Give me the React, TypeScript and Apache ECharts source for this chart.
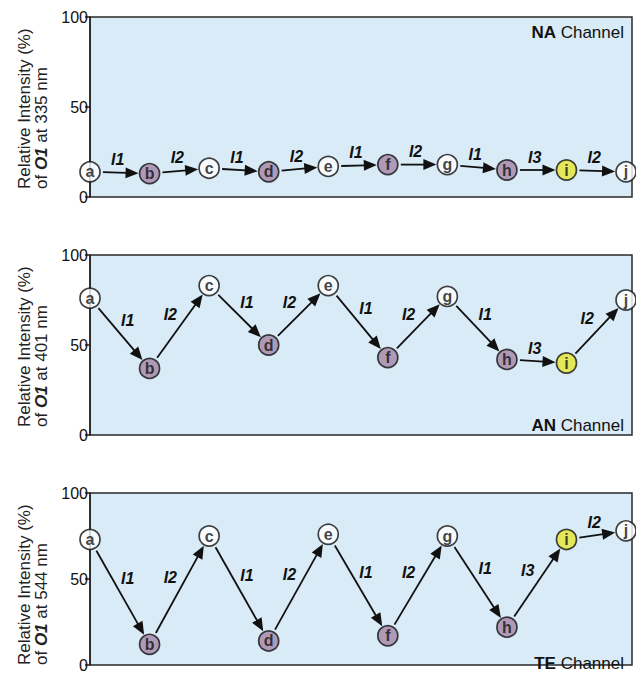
import React, { useEffect, useRef } from 'react';
import * as echarts from 'echarts';

const nodeNames = ['a', 'b', 'c', 'd', 'e', 'f', 'g', 'h', 'i', 'j'];
const nodeKinds = ['open', 'purple', 'open', 'purple', 'open', 'purple', 'open', 'purple', 'yellow', 'open'];
const stepLabels = ['I1', 'I2', 'I1', 'I2', 'I1', 'I2', 'I1', 'I3', 'I2'];
const naValues = [14, 13, 16, 14, 17, 18, 18, 15, 15, 14];
const anValues = [76, 37, 83, 50, 83, 43, 77, 42, 40, 75];
const teValues = [73, 12, 75, 14, 76, 17, 75, 22, 73, 78];
const yTicks = [0, 50, 100];
const channelNames = ['NA', 'AN', 'TE'];
const wavelengths = ['335', '401', '544'];
const panelValues = [naValues, anValues, teValues];

const FONT = '"Liberation Sans", Arial, Helvetica, sans-serif';
const kindColor: Record<string, string> = { open: '#ffffff', purple: '#a486a6', yellow: '#e8e635' };

const GRID_LEFT = 90;
const GRID_WIDTH = 542;
const GRID_H = 180;
const gridTops = [17, 255, 493];

export default function App() {
  const ref = useRef<HTMLDivElement>(null);
  useEffect(() => {
    if (!ref.current) return;
    const chart = echarts.init(ref.current, undefined, { renderer: 'svg' });

    const grids = gridTops.map((top) => ({
      left: GRID_LEFT, top, width: GRID_WIDTH, height: GRID_H,
      show: true, backgroundColor: '#d8ebf6', borderColor: '#2a2a2a', borderWidth: 1.5,
    }));
    const xAxes = gridTops.map((_, i) => ({
      type: 'value', gridIndex: i, min: 0, max: 9.1, show: false,
    }));
    const yAxes = gridTops.map((_, i) => ({
      type: 'value', gridIndex: i, min: yTicks[0], max: yTicks[yTicks.length - 1], interval: 50,
      axisLine: { show: true, lineStyle: { color: '#222', width: 1.5 } },
      axisTick: { show: true, length: 5, lineStyle: { color: '#222', width: 1.5 } },
      axisLabel: { fontSize: 16, color: '#111', fontFamily: FONT, margin: 2 },
      splitLine: { show: false },
    }));

    const series: any[] = [];
    panelValues.forEach((vals, idx) => {
      series.push({
        type: 'custom',
        xAxisIndex: idx, yAxisIndex: idx,
        z: 2,
        encode: { x: [0, 2], y: [1, 3] },
        data: stepLabels.map((_, i) => [i, vals[i], i + 1, vals[i + 1]]),
        renderItem: (params: any, api: any) => {
          const p1 = api.coord([api.value(0), api.value(1)]);
          const p2 = api.coord([api.value(2), api.value(3)]);
          const dx = p2[0] - p1[0];
          const dy = p2[1] - p1[1];
          const len = Math.hypot(dx, dy);
          const ux = dx / len, uy = dy / len;
          const s = [p1[0] + ux * 13, p1[1] + uy * 13];
          const e = [p2[0] - ux * 11, p2[1] - uy * 11];
          const head = 13, hw = 5.5;
          const b = [e[0] - ux * head, e[1] - uy * head];
          const nx = -uy, ny = ux;
          const mx = (p1[0] + p2[0]) / 2;
          const my = (p1[1] + p2[1]) / 2;
          const ox = Math.abs(dy) > 15 ? (dy > 0 ? 8 : -9) : -2;
          return {
            type: 'group',
            children: [
              { type: 'line', shape: { x1: s[0], y1: s[1], x2: b[0] + ux, y2: b[1] + uy }, style: { stroke: '#111', lineWidth: 1.8 } },
              { type: 'polygon', shape: { points: [e, [b[0] + nx * hw, b[1] + ny * hw], [b[0] - nx * hw, b[1] - ny * hw]] }, style: { fill: '#111' } },
              {
                type: 'text', x: mx + ox, y: my - 13,
                style: {
                  text: stepLabels[params.dataIndex], fill: '#111', fontSize: 16, fontWeight: 'bold',
                  fontStyle: 'italic', fontFamily: FONT, align: 'center', verticalAlign: 'middle',
                },
              },
            ],
          };
        },
      });
      series.push({
        type: 'scatter',
        xAxisIndex: idx, yAxisIndex: idx,
        z: 3,
        symbol: 'circle', symbolSize: 20,
        data: vals.map((v, i) => ({
          value: [i, v], name: nodeNames[i],
          itemStyle: { color: kindColor[nodeKinds[i]], borderColor: '#111', borderWidth: 1.7 },
        })),
        label: {
          show: true, position: 'inside', formatter: (p: any) => p.name,
          color: '#111', fontSize: 16, fontFamily: FONT, fontWeight: 'bold',
        },
      });
    });

    const graphics: any[] = [];
    gridTops.forEach((top, i) => {
      const cy = top + GRID_H / 2;
      const start = cy + 82;
      graphics.push({
        type: 'text', x: 24, y: start, rotation: Math.PI / 2,
        style: { text: 'Relative Intensity (%)', fill: '#222', fontSize: 17, fontFamily: FONT, align: 'left', verticalAlign: 'middle' },
      });
      graphics.push({
        type: 'text', x: 41, y: start, rotation: Math.PI / 2,
        style: {
          text: 'of {b|O1} at ' + wavelengths[i] + ' nm', fill: '#222', fontSize: 17, fontFamily: FONT,
          align: 'left', verticalAlign: 'middle',
          rich: { b: { fontWeight: 'bold', fontStyle: 'italic', fontSize: 17, fontFamily: FONT, fill: '#222' } },
        },
      });
      const ty = i === 0 ? top + 15 : top + GRID_H - 10;
      graphics.push({
        type: 'text', x: 624, y: ty,
        style: {
          text: '{b|' + channelNames[i] + '} Channel', fill: '#111', fontSize: 17, fontFamily: FONT,
          align: 'right', verticalAlign: 'middle',
          rich: { b: { fontWeight: 'bold', fontSize: 17, fontFamily: FONT, fill: '#111' } },
        },
      });
    });

    chart.setOption({
      animation: false,
      grid: grids,
      xAxis: xAxes,
      yAxis: yAxes,
      series,
      graphic: graphics,
    });
    return () => chart.dispose();
  }, []);
  return <div ref={ref} style={{ position: 'absolute', left: 0, top: 0, width: 636, height: 673, background: '#fff' }} />;
}
